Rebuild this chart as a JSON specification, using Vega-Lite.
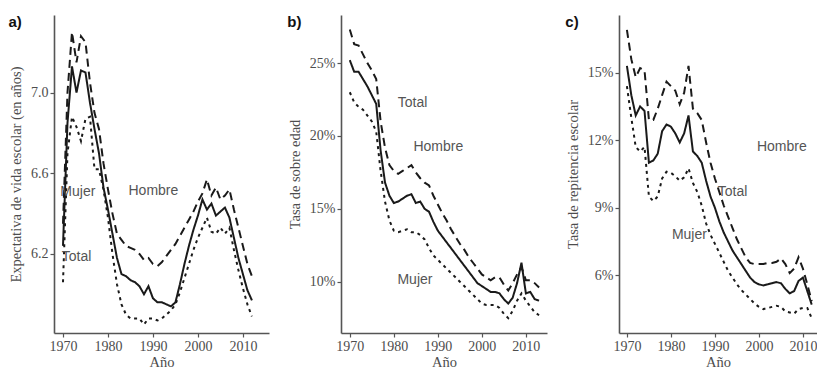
{
  "$schema": "https://vega.github.io/schema/vega-lite/v6.json",
  "padding": {"left": 8, "top": 15, "right": 0, "bottom": 0},
  "background": "white",
  "spacing": 72,
  "bounds": "flush",
  "config": {
    "view": {"stroke": null},
    "axis": {
      "grid": false,
      "domainColor": "#555555",
      "domainWidth": 1.6,
      "tickColor": "#555555",
      "tickWidth": 1.2,
      "tickSize": 4,
      "labelFont": "Liberation Serif",
      "labelFontSize": 14,
      "labelColor": "#4d4d4d",
      "labelPadding": 2,
      "titleFont": "Liberation Serif",
      "titleFontSize": 14.5,
      "titleFontWeight": "normal",
      "titleColor": "#4d4d4d"
    },
    "title": {
      "font": "Liberation Sans",
      "fontSize": 15,
      "fontWeight": "bold",
      "color": "#111111",
      "anchor": "start",
      "frame": "bounds"
    }
  },
  "datasets": {
    "vida": [
      {"anio": 1970, "serie": "Total", "valor": 6.24}, {"anio": 1971, "serie": "Total", "valor": 6.85}, {"anio": 1972, "serie": "Total", "valor": 7.13}, {"anio": 1973, "serie": "Total", "valor": 7.0}, {"anio": 1974, "serie": "Total", "valor": 7.11}, {"anio": 1975, "serie": "Total", "valor": 7.1}, {"anio": 1976, "serie": "Total", "valor": 6.95}, {"anio": 1977, "serie": "Total", "valor": 6.82}, {"anio": 1978, "serie": "Total", "valor": 6.7}, {"anio": 1979, "serie": "Total", "valor": 6.53}, {"anio": 1980, "serie": "Total", "valor": 6.42}, {"anio": 1981, "serie": "Total", "valor": 6.3}, {"anio": 1982, "serie": "Total", "valor": 6.18}, {"anio": 1983, "serie": "Total", "valor": 6.1}, {"anio": 1984, "serie": "Total", "valor": 6.09}, {"anio": 1985, "serie": "Total", "valor": 6.07}, {"anio": 1986, "serie": "Total", "valor": 6.06}, {"anio": 1987, "serie": "Total", "valor": 6.04}, {"anio": 1988, "serie": "Total", "valor": 6.0}, {"anio": 1989, "serie": "Total", "valor": 6.04}, {"anio": 1990, "serie": "Total", "valor": 5.98}, {"anio": 1991, "serie": "Total", "valor": 5.96}, {"anio": 1992, "serie": "Total", "valor": 5.96}, {"anio": 1993, "serie": "Total", "valor": 5.95}, {"anio": 1994, "serie": "Total", "valor": 5.94}, {"anio": 1995, "serie": "Total", "valor": 5.96}, {"anio": 1996, "serie": "Total", "valor": 6.05}, {"anio": 1997, "serie": "Total", "valor": 6.15}, {"anio": 1998, "serie": "Total", "valor": 6.24}, {"anio": 1999, "serie": "Total", "valor": 6.32}, {"anio": 2000, "serie": "Total", "valor": 6.39}, {"anio": 2001, "serie": "Total", "valor": 6.47}, {"anio": 2002, "serie": "Total", "valor": 6.42}, {"anio": 2003, "serie": "Total", "valor": 6.45}, {"anio": 2004, "serie": "Total", "valor": 6.39}, {"anio": 2005, "serie": "Total", "valor": 6.41}, {"anio": 2006, "serie": "Total", "valor": 6.43}, {"anio": 2007, "serie": "Total", "valor": 6.38}, {"anio": 2008, "serie": "Total", "valor": 6.28}, {"anio": 2009, "serie": "Total", "valor": 6.18}, {"anio": 2010, "serie": "Total", "valor": 6.1}, {"anio": 2011, "serie": "Total", "valor": 6.02}, {"anio": 2012, "serie": "Total", "valor": 5.97},
      {"anio": 1970, "serie": "Hombre", "valor": 6.35}, {"anio": 1971, "serie": "Hombre", "valor": 7.0}, {"anio": 1972, "serie": "Hombre", "valor": 7.3}, {"anio": 1973, "serie": "Hombre", "valor": 7.15}, {"anio": 1974, "serie": "Hombre", "valor": 7.28}, {"anio": 1975, "serie": "Hombre", "valor": 7.25}, {"anio": 1976, "serie": "Hombre", "valor": 7.05}, {"anio": 1977, "serie": "Hombre", "valor": 6.9}, {"anio": 1978, "serie": "Hombre", "valor": 6.82}, {"anio": 1979, "serie": "Hombre", "valor": 6.65}, {"anio": 1980, "serie": "Hombre", "valor": 6.52}, {"anio": 1981, "serie": "Hombre", "valor": 6.4}, {"anio": 1982, "serie": "Hombre", "valor": 6.3}, {"anio": 1983, "serie": "Hombre", "valor": 6.27}, {"anio": 1984, "serie": "Hombre", "valor": 6.24}, {"anio": 1985, "serie": "Hombre", "valor": 6.23}, {"anio": 1986, "serie": "Hombre", "valor": 6.22}, {"anio": 1987, "serie": "Hombre", "valor": 6.2}, {"anio": 1988, "serie": "Hombre", "valor": 6.17}, {"anio": 1989, "serie": "Hombre", "valor": 6.18}, {"anio": 1990, "serie": "Hombre", "valor": 6.15}, {"anio": 1991, "serie": "Hombre", "valor": 6.14}, {"anio": 1992, "serie": "Hombre", "valor": 6.16}, {"anio": 1993, "serie": "Hombre", "valor": 6.19}, {"anio": 1994, "serie": "Hombre", "valor": 6.22}, {"anio": 1995, "serie": "Hombre", "valor": 6.25}, {"anio": 1996, "serie": "Hombre", "valor": 6.29}, {"anio": 1997, "serie": "Hombre", "valor": 6.33}, {"anio": 1998, "serie": "Hombre", "valor": 6.37}, {"anio": 1999, "serie": "Hombre", "valor": 6.41}, {"anio": 2000, "serie": "Hombre", "valor": 6.46}, {"anio": 2001, "serie": "Hombre", "valor": 6.5}, {"anio": 2002, "serie": "Hombre", "valor": 6.57}, {"anio": 2003, "serie": "Hombre", "valor": 6.49}, {"anio": 2004, "serie": "Hombre", "valor": 6.53}, {"anio": 2005, "serie": "Hombre", "valor": 6.47}, {"anio": 2006, "serie": "Hombre", "valor": 6.49}, {"anio": 2007, "serie": "Hombre", "valor": 6.52}, {"anio": 2008, "serie": "Hombre", "valor": 6.42}, {"anio": 2009, "serie": "Hombre", "valor": 6.33}, {"anio": 2010, "serie": "Hombre", "valor": 6.24}, {"anio": 2011, "serie": "Hombre", "valor": 6.15}, {"anio": 2012, "serie": "Hombre", "valor": 6.09},
      {"anio": 1970, "serie": "Mujer", "valor": 6.06}, {"anio": 1971, "serie": "Mujer", "valor": 6.7}, {"anio": 1972, "serie": "Mujer", "valor": 6.88}, {"anio": 1973, "serie": "Mujer", "valor": 6.83}, {"anio": 1974, "serie": "Mujer", "valor": 6.76}, {"anio": 1975, "serie": "Mujer", "valor": 6.87}, {"anio": 1976, "serie": "Mujer", "valor": 6.88}, {"anio": 1977, "serie": "Mujer", "valor": 6.62}, {"anio": 1978, "serie": "Mujer", "valor": 6.62}, {"anio": 1979, "serie": "Mujer", "valor": 6.52}, {"anio": 1980, "serie": "Mujer", "valor": 6.38}, {"anio": 1981, "serie": "Mujer", "valor": 6.2}, {"anio": 1982, "serie": "Mujer", "valor": 6.05}, {"anio": 1983, "serie": "Mujer", "valor": 5.95}, {"anio": 1984, "serie": "Mujer", "valor": 5.9}, {"anio": 1985, "serie": "Mujer", "valor": 5.88}, {"anio": 1986, "serie": "Mujer", "valor": 5.88}, {"anio": 1987, "serie": "Mujer", "valor": 5.88}, {"anio": 1988, "serie": "Mujer", "valor": 5.85}, {"anio": 1989, "serie": "Mujer", "valor": 5.88}, {"anio": 1990, "serie": "Mujer", "valor": 5.88}, {"anio": 1991, "serie": "Mujer", "valor": 5.87}, {"anio": 1992, "serie": "Mujer", "valor": 5.88}, {"anio": 1993, "serie": "Mujer", "valor": 5.9}, {"anio": 1994, "serie": "Mujer", "valor": 5.92}, {"anio": 1995, "serie": "Mujer", "valor": 5.95}, {"anio": 1996, "serie": "Mujer", "valor": 6.01}, {"anio": 1997, "serie": "Mujer", "valor": 6.08}, {"anio": 1998, "serie": "Mujer", "valor": 6.15}, {"anio": 1999, "serie": "Mujer", "valor": 6.22}, {"anio": 2000, "serie": "Mujer", "valor": 6.28}, {"anio": 2001, "serie": "Mujer", "valor": 6.33}, {"anio": 2002, "serie": "Mujer", "valor": 6.38}, {"anio": 2003, "serie": "Mujer", "valor": 6.31}, {"anio": 2004, "serie": "Mujer", "valor": 6.3}, {"anio": 2005, "serie": "Mujer", "valor": 6.33}, {"anio": 2006, "serie": "Mujer", "valor": 6.3}, {"anio": 2007, "serie": "Mujer", "valor": 6.33}, {"anio": 2008, "serie": "Mujer", "valor": 6.22}, {"anio": 2009, "serie": "Mujer", "valor": 6.12}, {"anio": 2010, "serie": "Mujer", "valor": 6.03}, {"anio": 2011, "serie": "Mujer", "valor": 5.95}, {"anio": 2012, "serie": "Mujer", "valor": 5.89}
    ],
    "vida_etiquetas": [
      {"anio": 1973.3, "valor": 6.508, "texto": "Mujer"},
      {"anio": 1990.1, "valor": 6.51, "texto": "Hombre"},
      {"anio": 1973.0, "valor": 6.185, "texto": "Total"}
    ],
    "sobreedad": [
      {"anio": 1970, "serie": "Total", "valor": 25.2}, {"anio": 1971, "serie": "Total", "valor": 24.4}, {"anio": 1972, "serie": "Total", "valor": 24.4}, {"anio": 1973, "serie": "Total", "valor": 23.9}, {"anio": 1974, "serie": "Total", "valor": 23.4}, {"anio": 1975, "serie": "Total", "valor": 22.8}, {"anio": 1976, "serie": "Total", "valor": 22.2}, {"anio": 1977, "serie": "Total", "valor": 19.0}, {"anio": 1978, "serie": "Total", "valor": 16.8}, {"anio": 1979, "serie": "Total", "valor": 15.9}, {"anio": 1980, "serie": "Total", "valor": 15.4}, {"anio": 1981, "serie": "Total", "valor": 15.5}, {"anio": 1982, "serie": "Total", "valor": 15.7}, {"anio": 1983, "serie": "Total", "valor": 15.9}, {"anio": 1984, "serie": "Total", "valor": 16.0}, {"anio": 1985, "serie": "Total", "valor": 15.4}, {"anio": 1986, "serie": "Total", "valor": 15.5}, {"anio": 1987, "serie": "Total", "valor": 15.0}, {"anio": 1988, "serie": "Total", "valor": 14.8}, {"anio": 1989, "serie": "Total", "valor": 14.1}, {"anio": 1990, "serie": "Total", "valor": 13.5}, {"anio": 1991, "serie": "Total", "valor": 13.1}, {"anio": 1992, "serie": "Total", "valor": 12.7}, {"anio": 1993, "serie": "Total", "valor": 12.3}, {"anio": 1994, "serie": "Total", "valor": 11.9}, {"anio": 1995, "serie": "Total", "valor": 11.5}, {"anio": 1996, "serie": "Total", "valor": 11.1}, {"anio": 1997, "serie": "Total", "valor": 10.7}, {"anio": 1998, "serie": "Total", "valor": 10.3}, {"anio": 1999, "serie": "Total", "valor": 9.9}, {"anio": 2000, "serie": "Total", "valor": 9.7}, {"anio": 2001, "serie": "Total", "valor": 9.5}, {"anio": 2002, "serie": "Total", "valor": 9.3}, {"anio": 2003, "serie": "Total", "valor": 9.3}, {"anio": 2004, "serie": "Total", "valor": 9.2}, {"anio": 2005, "serie": "Total", "valor": 8.8}, {"anio": 2006, "serie": "Total", "valor": 8.5}, {"anio": 2007, "serie": "Total", "valor": 8.9}, {"anio": 2008, "serie": "Total", "valor": 9.9}, {"anio": 2009, "serie": "Total", "valor": 11.3}, {"anio": 2010, "serie": "Total", "valor": 9.2}, {"anio": 2011, "serie": "Total", "valor": 9.3}, {"anio": 2012, "serie": "Total", "valor": 8.8}, {"anio": 2013, "serie": "Total", "valor": 8.7},
      {"anio": 1970, "serie": "Hombre", "valor": 27.3}, {"anio": 1971, "serie": "Hombre", "valor": 26.3}, {"anio": 1972, "serie": "Hombre", "valor": 26.2}, {"anio": 1973, "serie": "Hombre", "valor": 25.6}, {"anio": 1974, "serie": "Hombre", "valor": 25.0}, {"anio": 1975, "serie": "Hombre", "valor": 24.5}, {"anio": 1976, "serie": "Hombre", "valor": 23.9}, {"anio": 1977, "serie": "Hombre", "valor": 21.0}, {"anio": 1978, "serie": "Hombre", "valor": 19.2}, {"anio": 1979, "serie": "Hombre", "valor": 18.0}, {"anio": 1980, "serie": "Hombre", "valor": 17.6}, {"anio": 1981, "serie": "Hombre", "valor": 17.4}, {"anio": 1982, "serie": "Hombre", "valor": 17.6}, {"anio": 1983, "serie": "Hombre", "valor": 17.8}, {"anio": 1984, "serie": "Hombre", "valor": 18.0}, {"anio": 1985, "serie": "Hombre", "valor": 17.5}, {"anio": 1986, "serie": "Hombre", "valor": 17.1}, {"anio": 1987, "serie": "Hombre", "valor": 16.8}, {"anio": 1988, "serie": "Hombre", "valor": 16.6}, {"anio": 1989, "serie": "Hombre", "valor": 15.9}, {"anio": 1990, "serie": "Hombre", "valor": 15.3}, {"anio": 1991, "serie": "Hombre", "valor": 14.7}, {"anio": 1992, "serie": "Hombre", "valor": 14.2}, {"anio": 1993, "serie": "Hombre", "valor": 13.6}, {"anio": 1994, "serie": "Hombre", "valor": 13.1}, {"anio": 1995, "serie": "Hombre", "valor": 12.6}, {"anio": 1996, "serie": "Hombre", "valor": 12.2}, {"anio": 1997, "serie": "Hombre", "valor": 11.7}, {"anio": 1998, "serie": "Hombre", "valor": 11.3}, {"anio": 1999, "serie": "Hombre", "valor": 10.9}, {"anio": 2000, "serie": "Hombre", "valor": 10.5}, {"anio": 2001, "serie": "Hombre", "valor": 10.3}, {"anio": 2002, "serie": "Hombre", "valor": 10.1}, {"anio": 2003, "serie": "Hombre", "valor": 10.3}, {"anio": 2004, "serie": "Hombre", "valor": 10.3}, {"anio": 2005, "serie": "Hombre", "valor": 9.8}, {"anio": 2006, "serie": "Hombre", "valor": 9.4}, {"anio": 2007, "serie": "Hombre", "valor": 9.9}, {"anio": 2008, "serie": "Hombre", "valor": 10.5}, {"anio": 2009, "serie": "Hombre", "valor": 11.0}, {"anio": 2010, "serie": "Hombre", "valor": 10.1}, {"anio": 2011, "serie": "Hombre", "valor": 10.1}, {"anio": 2012, "serie": "Hombre", "valor": 9.9}, {"anio": 2013, "serie": "Hombre", "valor": 9.6},
      {"anio": 1970, "serie": "Mujer", "valor": 23.0}, {"anio": 1971, "serie": "Mujer", "valor": 22.3}, {"anio": 1972, "serie": "Mujer", "valor": 22.0}, {"anio": 1973, "serie": "Mujer", "valor": 21.8}, {"anio": 1974, "serie": "Mujer", "valor": 21.4}, {"anio": 1975, "serie": "Mujer", "valor": 21.0}, {"anio": 1976, "serie": "Mujer", "valor": 20.3}, {"anio": 1977, "serie": "Mujer", "valor": 17.6}, {"anio": 1978, "serie": "Mujer", "valor": 15.5}, {"anio": 1979, "serie": "Mujer", "valor": 14.2}, {"anio": 1980, "serie": "Mujer", "valor": 13.5}, {"anio": 1981, "serie": "Mujer", "valor": 13.4}, {"anio": 1982, "serie": "Mujer", "valor": 13.5}, {"anio": 1983, "serie": "Mujer", "valor": 13.6}, {"anio": 1984, "serie": "Mujer", "valor": 13.4}, {"anio": 1985, "serie": "Mujer", "valor": 13.4}, {"anio": 1986, "serie": "Mujer", "valor": 13.2}, {"anio": 1987, "serie": "Mujer", "valor": 12.9}, {"anio": 1988, "serie": "Mujer", "valor": 12.3}, {"anio": 1989, "serie": "Mujer", "valor": 11.8}, {"anio": 1990, "serie": "Mujer", "valor": 11.5}, {"anio": 1991, "serie": "Mujer", "valor": 11.2}, {"anio": 1992, "serie": "Mujer", "valor": 10.9}, {"anio": 1993, "serie": "Mujer", "valor": 10.6}, {"anio": 1994, "serie": "Mujer", "valor": 10.3}, {"anio": 1995, "serie": "Mujer", "valor": 10.0}, {"anio": 1996, "serie": "Mujer", "valor": 9.7}, {"anio": 1997, "serie": "Mujer", "valor": 9.4}, {"anio": 1998, "serie": "Mujer", "valor": 9.1}, {"anio": 1999, "serie": "Mujer", "valor": 8.8}, {"anio": 2000, "serie": "Mujer", "valor": 8.5}, {"anio": 2001, "serie": "Mujer", "valor": 8.4}, {"anio": 2002, "serie": "Mujer", "valor": 8.4}, {"anio": 2003, "serie": "Mujer", "valor": 8.4}, {"anio": 2004, "serie": "Mujer", "valor": 8.2}, {"anio": 2005, "serie": "Mujer", "valor": 7.8}, {"anio": 2006, "serie": "Mujer", "valor": 7.5}, {"anio": 2007, "serie": "Mujer", "valor": 8.0}, {"anio": 2008, "serie": "Mujer", "valor": 8.7}, {"anio": 2009, "serie": "Mujer", "valor": 9.2}, {"anio": 2010, "serie": "Mujer", "valor": 8.7}, {"anio": 2011, "serie": "Mujer", "valor": 8.3}, {"anio": 2012, "serie": "Mujer", "valor": 7.9}, {"anio": 2013, "serie": "Mujer", "valor": 7.7}
    ],
    "sobreedad_etiquetas": [
      {"anio": 1984.25, "valor": 22.25, "texto": "Total"},
      {"anio": 1990.1, "valor": 19.27, "texto": "Hombre"},
      {"anio": 1984.8, "valor": 10.12, "texto": "Mujer"}
    ],
    "repitencia": [
      {"anio": 1970, "serie": "Total", "valor": 15.3}, {"anio": 1971, "serie": "Total", "valor": 14.0}, {"anio": 1972, "serie": "Total", "valor": 13.1}, {"anio": 1973, "serie": "Total", "valor": 13.5}, {"anio": 1974, "serie": "Total", "valor": 13.3}, {"anio": 1975, "serie": "Total", "valor": 11.0}, {"anio": 1976, "serie": "Total", "valor": 11.1}, {"anio": 1977, "serie": "Total", "valor": 11.4}, {"anio": 1978, "serie": "Total", "valor": 12.4}, {"anio": 1979, "serie": "Total", "valor": 12.7}, {"anio": 1980, "serie": "Total", "valor": 12.6}, {"anio": 1981, "serie": "Total", "valor": 12.3}, {"anio": 1982, "serie": "Total", "valor": 11.9}, {"anio": 1983, "serie": "Total", "valor": 12.3}, {"anio": 1984, "serie": "Total", "valor": 13.1}, {"anio": 1985, "serie": "Total", "valor": 11.5}, {"anio": 1986, "serie": "Total", "valor": 11.3}, {"anio": 1987, "serie": "Total", "valor": 11.0}, {"anio": 1988, "serie": "Total", "valor": 10.2}, {"anio": 1989, "serie": "Total", "valor": 9.5}, {"anio": 1990, "serie": "Total", "valor": 9.0}, {"anio": 1991, "serie": "Total", "valor": 8.4}, {"anio": 1992, "serie": "Total", "valor": 7.9}, {"anio": 1993, "serie": "Total", "valor": 7.5}, {"anio": 1994, "serie": "Total", "valor": 7.1}, {"anio": 1995, "serie": "Total", "valor": 6.8}, {"anio": 1996, "serie": "Total", "valor": 6.5}, {"anio": 1997, "serie": "Total", "valor": 6.2}, {"anio": 1998, "serie": "Total", "valor": 5.9}, {"anio": 1999, "serie": "Total", "valor": 5.7}, {"anio": 2000, "serie": "Total", "valor": 5.6}, {"anio": 2001, "serie": "Total", "valor": 5.55}, {"anio": 2002, "serie": "Total", "valor": 5.6}, {"anio": 2003, "serie": "Total", "valor": 5.65}, {"anio": 2004, "serie": "Total", "valor": 5.7}, {"anio": 2005, "serie": "Total", "valor": 5.65}, {"anio": 2006, "serie": "Total", "valor": 5.4}, {"anio": 2007, "serie": "Total", "valor": 5.2}, {"anio": 2008, "serie": "Total", "valor": 5.3}, {"anio": 2009, "serie": "Total", "valor": 5.75}, {"anio": 2010, "serie": "Total", "valor": 5.9}, {"anio": 2011, "serie": "Total", "valor": 5.3}, {"anio": 2012, "serie": "Total", "valor": 4.7},
      {"anio": 1970, "serie": "Hombre", "valor": 16.9}, {"anio": 1971, "serie": "Hombre", "valor": 15.6}, {"anio": 1972, "serie": "Hombre", "valor": 14.8}, {"anio": 1973, "serie": "Hombre", "valor": 15.2}, {"anio": 1974, "serie": "Hombre", "valor": 15.1}, {"anio": 1975, "serie": "Hombre", "valor": 12.9}, {"anio": 1976, "serie": "Hombre", "valor": 12.9}, {"anio": 1977, "serie": "Hombre", "valor": 13.4}, {"anio": 1978, "serie": "Hombre", "valor": 14.0}, {"anio": 1979, "serie": "Hombre", "valor": 14.6}, {"anio": 1980, "serie": "Hombre", "valor": 14.4}, {"anio": 1981, "serie": "Hombre", "valor": 14.2}, {"anio": 1982, "serie": "Hombre", "valor": 13.6}, {"anio": 1983, "serie": "Hombre", "valor": 14.1}, {"anio": 1984, "serie": "Hombre", "valor": 15.3}, {"anio": 1985, "serie": "Hombre", "valor": 13.4}, {"anio": 1986, "serie": "Hombre", "valor": 13.2}, {"anio": 1987, "serie": "Hombre", "valor": 12.9}, {"anio": 1988, "serie": "Hombre", "valor": 11.9}, {"anio": 1989, "serie": "Hombre", "valor": 11.0}, {"anio": 1990, "serie": "Hombre", "valor": 10.3}, {"anio": 1991, "serie": "Hombre", "valor": 9.7}, {"anio": 1992, "serie": "Hombre", "valor": 9.1}, {"anio": 1993, "serie": "Hombre", "valor": 8.6}, {"anio": 1994, "serie": "Hombre", "valor": 8.1}, {"anio": 1995, "serie": "Hombre", "valor": 7.6}, {"anio": 1996, "serie": "Hombre", "valor": 7.2}, {"anio": 1997, "serie": "Hombre", "valor": 6.8}, {"anio": 1998, "serie": "Hombre", "valor": 6.55}, {"anio": 1999, "serie": "Hombre", "valor": 6.5}, {"anio": 2000, "serie": "Hombre", "valor": 6.5}, {"anio": 2001, "serie": "Hombre", "valor": 6.5}, {"anio": 2002, "serie": "Hombre", "valor": 6.55}, {"anio": 2003, "serie": "Hombre", "valor": 6.55}, {"anio": 2004, "serie": "Hombre", "valor": 6.6}, {"anio": 2005, "serie": "Hombre", "valor": 6.75}, {"anio": 2006, "serie": "Hombre", "valor": 6.5}, {"anio": 2007, "serie": "Hombre", "valor": 6.1}, {"anio": 2008, "serie": "Hombre", "valor": 6.3}, {"anio": 2009, "serie": "Hombre", "valor": 6.8}, {"anio": 2010, "serie": "Hombre", "valor": 6.3}, {"anio": 2011, "serie": "Hombre", "valor": 5.6}, {"anio": 2012, "serie": "Hombre", "valor": 4.85},
      {"anio": 1970, "serie": "Mujer", "valor": 14.4}, {"anio": 1971, "serie": "Mujer", "valor": 13.0}, {"anio": 1972, "serie": "Mujer", "valor": 11.7}, {"anio": 1973, "serie": "Mujer", "valor": 11.5}, {"anio": 1974, "serie": "Mujer", "valor": 11.7}, {"anio": 1975, "serie": "Mujer", "valor": 9.5}, {"anio": 1976, "serie": "Mujer", "valor": 9.3}, {"anio": 1977, "serie": "Mujer", "valor": 9.5}, {"anio": 1978, "serie": "Mujer", "valor": 10.3}, {"anio": 1979, "serie": "Mujer", "valor": 10.6}, {"anio": 1980, "serie": "Mujer", "valor": 10.55}, {"anio": 1981, "serie": "Mujer", "valor": 10.4}, {"anio": 1982, "serie": "Mujer", "valor": 10.2}, {"anio": 1983, "serie": "Mujer", "valor": 10.35}, {"anio": 1984, "serie": "Mujer", "valor": 10.75}, {"anio": 1985, "serie": "Mujer", "valor": 10.1}, {"anio": 1986, "serie": "Mujer", "valor": 9.7}, {"anio": 1987, "serie": "Mujer", "valor": 9.1}, {"anio": 1988, "serie": "Mujer", "valor": 8.3}, {"anio": 1989, "serie": "Mujer", "valor": 7.8}, {"anio": 1990, "serie": "Mujer", "valor": 7.4}, {"anio": 1991, "serie": "Mujer", "valor": 7.0}, {"anio": 1992, "serie": "Mujer", "valor": 6.6}, {"anio": 1993, "serie": "Mujer", "valor": 6.2}, {"anio": 1994, "serie": "Mujer", "valor": 5.9}, {"anio": 1995, "serie": "Mujer", "valor": 5.6}, {"anio": 1996, "serie": "Mujer", "valor": 5.35}, {"anio": 1997, "serie": "Mujer", "valor": 5.15}, {"anio": 1998, "serie": "Mujer", "valor": 4.95}, {"anio": 1999, "serie": "Mujer", "valor": 4.75}, {"anio": 2000, "serie": "Mujer", "valor": 4.6}, {"anio": 2001, "serie": "Mujer", "valor": 4.5}, {"anio": 2002, "serie": "Mujer", "valor": 4.55}, {"anio": 2003, "serie": "Mujer", "valor": 4.6}, {"anio": 2004, "serie": "Mujer", "valor": 4.65}, {"anio": 2005, "serie": "Mujer", "valor": 4.6}, {"anio": 2006, "serie": "Mujer", "valor": 4.4}, {"anio": 2007, "serie": "Mujer", "valor": 4.35}, {"anio": 2008, "serie": "Mujer", "valor": 4.3}, {"anio": 2009, "serie": "Mujer", "valor": 4.5}, {"anio": 2010, "serie": "Mujer", "valor": 4.55}, {"anio": 2011, "serie": "Mujer", "valor": 4.55}, {"anio": 2012, "serie": "Mujer", "valor": 4.1}
    ],
    "repitencia_etiquetas": [
      {"anio": 2005.2, "valor": 11.71, "texto": "Hombre"},
      {"anio": 1994.0, "valor": 9.71, "texto": "Total"},
      {"anio": 1984.2, "valor": 7.79, "texto": "Mujer"}
    ]
  },
  "hconcat": [
    {
      "title": {"text": "a)", "dy": 19},
      "width": 215,
      "height": 318,
      "layer": [
        {
          "data": {"name": "vida"},
          "mark": {"type": "line", "color": "#1a1a1a", "strokeWidth": 2},
          "encoding": {
            "x": {"field": "anio", "type": "quantitative", "scale": {"domain": [1968, 2015.8], "nice": false, "zero": false},
                  "axis": {"title": "Año", "values": [1970, 1980, 1990, 2000, 2010], "format": "d", "titlePadding": 2}},
            "y": {"field": "valor", "type": "quantitative", "scale": {"domain": [5.808, 7.385], "nice": false, "zero": false},
                  "axis": {"title": "Expectativa de vida escolar (en años)", "values": [6.2, 6.6, 7.0], "format": ".1f", "titlePadding": 7}},
            "strokeDash": {"field": "serie", "type": "nominal",
                           "scale": {"domain": ["Total", "Hombre", "Mujer"], "range": [[1, 0], [8, 5], [3, 4]]}, "legend": null}
          }
        },
        {
          "data": {"name": "vida_etiquetas"},
          "mark": {"type": "text", "font": "Liberation Sans", "fontSize": 14, "color": "#555555"},
          "encoding": {
            "x": {"field": "anio", "type": "quantitative"},
            "y": {"field": "valor", "type": "quantitative"},
            "text": {"field": "texto"}
          }
        }
      ]
    },
    {
      "title": {"text": "b)", "dy": 19},
      "width": 206,
      "height": 318,
      "layer": [
        {
          "data": {"name": "sobreedad"},
          "mark": {"type": "line", "color": "#1a1a1a", "strokeWidth": 2},
          "encoding": {
            "x": {"field": "anio", "type": "quantitative", "scale": {"domain": [1968, 2014.8], "nice": false, "zero": false},
                  "axis": {"title": "Año", "values": [1970, 1980, 1990, 2000, 2010], "format": "d", "titlePadding": 2}},
            "y": {"field": "valor", "type": "quantitative", "scale": {"domain": [6.48, 28.3], "nice": false, "zero": false},
                  "axis": {"title": "Tasa de sobre edad", "values": [10, 15, 20, 25], "labelExpr": "datum.value + '%'", "titlePadding": 7}},
            "strokeDash": {"field": "serie", "type": "nominal",
                           "scale": {"domain": ["Total", "Hombre", "Mujer"], "range": [[1, 0], [8, 5], [3, 4]]}, "legend": null}
          }
        },
        {
          "data": {"name": "sobreedad_etiquetas"},
          "mark": {"type": "text", "font": "Liberation Sans", "fontSize": 14, "color": "#555555"},
          "encoding": {
            "x": {"field": "anio", "type": "quantitative"},
            "y": {"field": "valor", "type": "quantitative"},
            "text": {"field": "texto"}
          }
        }
      ]
    },
    {
      "title": {"text": "c)", "dy": 19},
      "width": 198,
      "height": 318,
      "layer": [
        {
          "data": {"name": "repitencia"},
          "mark": {"type": "line", "color": "#1a1a1a", "strokeWidth": 2},
          "encoding": {
            "x": {"field": "anio", "type": "quantitative", "scale": {"domain": [1968.2, 2013.2], "nice": false, "zero": false},
                  "axis": {"title": "Año", "values": [1970, 1980, 1990, 2000, 2010], "format": "d", "titlePadding": 2}},
            "y": {"field": "valor", "type": "quantitative", "scale": {"domain": [3.44, 17.56], "nice": false, "zero": false},
                  "axis": {"title": "Tasa de repitencia escolar", "values": [6, 9, 12, 15], "labelExpr": "datum.value + '%'", "titlePadding": 7}},
            "strokeDash": {"field": "serie", "type": "nominal",
                           "scale": {"domain": ["Total", "Hombre", "Mujer"], "range": [[1, 0], [8, 5], [3, 4]]}, "legend": null}
          }
        },
        {
          "data": {"name": "repitencia_etiquetas"},
          "mark": {"type": "text", "font": "Liberation Sans", "fontSize": 14, "color": "#555555"},
          "encoding": {
            "x": {"field": "anio", "type": "quantitative"},
            "y": {"field": "valor", "type": "quantitative"},
            "text": {"field": "texto"}
          }
        }
      ]
    }
  ]
}
